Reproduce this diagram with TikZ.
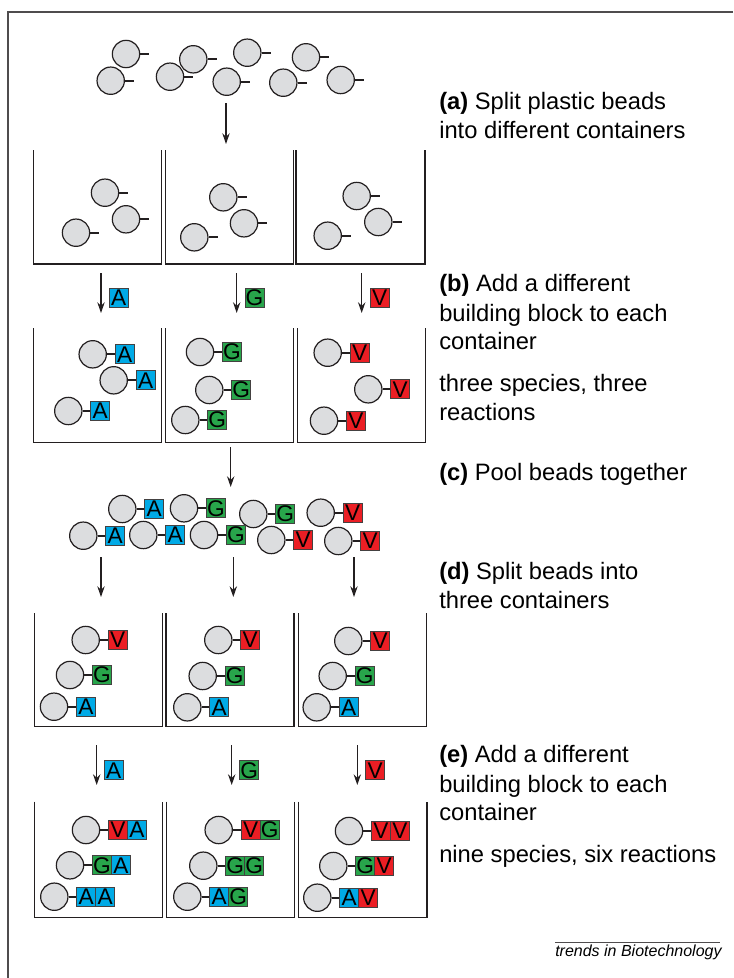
\documentclass[tikz,border=0pt]{standalone}
\usepackage{fontspec}
\setmainfont{Liberation Sans}
\usetikzlibrary{arrows.meta,calc}
\definecolor{beadgray}{RGB}{220,221,223}
\definecolor{blkA}{RGB}{0,170,230}
\definecolor{blkG}{RGB}{40,165,75}
\definecolor{blkV}{RGB}{235,30,36}
\definecolor{ink}{RGB}{35,31,32}
\tikzset{
 bead/.style={circle, draw=ink, fill=beadgray, line width=0.9pt, minimum size=20.5pt, inner sep=0pt},
 stick/.style={draw=ink, line width=1.4pt},
 blk/.style={draw=ink!85, line width=0.6pt, minimum size=14.25pt, inner sep=0pt, font=\fontsize{17pt}{17pt}\selectfont},
 cont/.style={draw=ink, line width=0.9pt},
 arr/.style={draw=ink, line width=0.9pt, -{Stealth[length=8pt,width=5.5pt]}},
 frame/.style={draw=ink!80, line width=1.2pt},
 lbl/.style={anchor=base west, inner sep=0pt, font=\fontsize{17.8pt}{21pt}\selectfont},
 foot/.style={anchor=base west, inner sep=0pt, font=\fontsize{12pt}{14pt}\selectfont\itshape},
}
\newcommand\PlainBead[3]{%
 \node[bead] (#1) at (#2,#3) {};
 \coordinate (#1-e) at ($(#1.east)+(9,0)$);
 \draw[stick] (#1.east) -- (#1-e);}
\newcommand\OneBead[5]{%
 \node[bead] (#1) at (#2,#3) {};
 \node[blk, fill=blk#4] (#1-b1) at ($(#1.center)+(32,0)$) {#5};
 \draw[stick] (#1) -- (#1-b1);}
\newcommand\TwoBead[7]{%
 \node[bead] (#1) at (#2,#3) {};
 \node[blk, fill=blk#4] (#1-b1) at ($(#1.center)+(32,0)$) {#5};
 \node[blk, fill=blk#6] (#1-b2) at ($(#1.center)+(51,0)$) {#7};
 \draw[stick] (#1) -- (#1-b1);}
\newcommand\Cont[5]{%
 \coordinate (#1-tl) at (#2,#3); \coordinate (#1-bl) at (#2,#5);
 \coordinate (#1-br) at (#4,#5); \coordinate (#1-tr) at (#4,#3);
 \draw[cont] (#1-tl) -- (#1-bl) -- (#1-br) -- (#1-tr);}
\newcommand\Arr[4]{%
 \coordinate (#1-s) at (#2,#3); \coordinate (#1-e) at (#2,#4);
 \draw[arr] (#1-s) -- (#1-e);}
\begin{document}
\begin{tikzpicture}[x=0.75pt,y=-0.75pt]
\useasboundingbox (0,0) rectangle (733,978);
% frame
\coordinate (fr-tr) at (733,12); \coordinate (fr-tl) at (8,12); \coordinate (fr-bl) at (8,978);
\draw[frame] (fr-tr) -- (fr-tl) -- (fr-bl);
% top beads
\PlainBead{t1}{126}{54}
\PlainBead{t2}{110.7}{80.7}
\PlainBead{t3}{193.3}{59.3}
\PlainBead{t4}{170}{76.7}
\PlainBead{t5}{247.3}{52.7}
\PlainBead{t6}{226.7}{81.7}
\PlainBead{t7}{306}{57.3}
\PlainBead{t8}{283.3}{82.7}
\PlainBead{t9}{340.7}{80}
\Arr{a0}{226}{103}{144}
% row 1 containers
\Cont{k1}{33.3}{150}{161.7}{264}
\Cont{k2}{165.3}{150}{293.3}{264}
\Cont{k3}{296}{150}{425}{264}
\PlainBead{r1a}{105}{192.7}
\PlainBead{r1b}{126}{219.3}
\PlainBead{r1c}{76}{232.7}
\PlainBead{r1d}{223.3}{197.3}
\PlainBead{r1e}{244}{223.3}
\PlainBead{r1f}{194.3}{237.3}
\PlainBead{r1g}{356.7}{196}
\PlainBead{r1h}{378.3}{222}
\PlainBead{r1i}{327.7}{235.7}
% add blocks (b)
\Arr{a1}{101}{273}{313}
\Arr{a2}{236.7}{273}{313}
\Arr{a3}{361.7}{273}{313}
\node[blk, fill=blkA] (ba1) at (118.8,297.8) {A};
\node[blk, fill=blkG] (ba2) at (254.5,297.8) {G};
\node[blk, fill=blkV] (ba3) at (379.7,297.8) {V};
% row 2 containers
\Cont{m1}{33.3}{328.3}{161.7}{442.3}
\Cont{m2}{165.3}{328.3}{293.3}{442.3}
\Cont{m3}{297.3}{328.3}{425.7}{442.3}
\OneBead{r2a}{92.7}{354.3}{A}{A}
\OneBead{r2b}{113.7}{380.3}{A}{A}
\OneBead{r2c}{68.3}{411}{A}{A}
\OneBead{r2d}{200}{352}{G}{G}
\OneBead{r2e}{209.3}{390}{G}{G}
\OneBead{r2f}{185.3}{420}{G}{G}
\OneBead{r2g}{327.7}{352.7}{V}{V}
\OneBead{r2h}{368.3}{389.3}{V}{V}
\OneBead{r2i}{324}{420.7}{V}{V}
% pool
\Arr{a4}{230.7}{447}{487}
\OneBead{p1}{122.3}{509}{A}{A}
\OneBead{p2}{184}{508.3}{G}{G}
\OneBead{p3}{253.3}{514}{G}{G}
\OneBead{p4}{320.7}{512.7}{V}{V}
\OneBead{p5}{83.3}{535.7}{A}{A}
\OneBead{p6}{143.3}{535}{A}{A}
\OneBead{p7}{204}{535}{G}{G}
\OneBead{p8}{271.3}{540}{V}{V}
\OneBead{p9}{338.3}{541}{V}{V}
\Arr{a5}{101}{557}{597}
\Arr{a6}{233.3}{557}{597}
\Arr{a7}{354}{557}{597}
% row 3 containers
\Cont{n1}{34.3}{613.3}{162.3}{726.7}
\Cont{n2}{166}{613.3}{294}{726.7}
\Cont{n3}{298.3}{613.3}{426.7}{726.7}
\OneBead{r3a}{85.7}{640}{V}{V}
\OneBead{r3b}{70}{675}{G}{G}
\OneBead{r3c}{54}{706.7}{A}{A}
\OneBead{r3d}{218.3}{640}{V}{V}
\OneBead{r3e}{202.7}{676}{G}{G}
\OneBead{r3f}{187.3}{707.3}{A}{A}
\OneBead{r3g}{348.3}{641}{V}{V}
\OneBead{r3h}{332.7}{676}{G}{G}
\OneBead{r3i}{316.7}{707.3}{A}{A}
% add blocks (e)
\Arr{a8}{96.7}{745}{785}
\Arr{a9}{231.7}{745}{785}
\Arr{a10}{357.3}{745}{785}
\node[blk, fill=blkA] (bb1) at (113.7,770.3) {A};
\node[blk, fill=blkG] (bb2) at (249.2,770.3) {G};
\node[blk, fill=blkV] (bb3) at (375.3,770.3) {V};
% row 4 containers
\Cont{q1}{34.7}{801.7}{162.7}{917.7}
\Cont{q2}{166.7}{801.7}{294.3}{917.7}
\Cont{q3}{298.7}{801.7}{427}{917.7}
\TwoBead{r4a}{86}{830}{V}{V}{A}{A}
\TwoBead{r4b}{70}{865.3}{G}{G}{A}{A}
\TwoBead{r4c}{54.3}{896.7}{A}{A}{A}{A}
\TwoBead{r4d}{218.7}{830}{V}{V}{G}{G}
\TwoBead{r4e}{203.3}{865.7}{G}{G}{G}{G}
\TwoBead{r4f}{187.3}{896.7}{A}{A}{G}{G}
\TwoBead{r4g}{349}{831}{V}{V}{V}{V}
\TwoBead{r4h}{333.3}{866}{G}{G}{V}{V}
\TwoBead{r4i}{317.3}{897.7}{A}{A}{V}{V}
% labels
\node[lbl] (la1) at (439,109.3) {\textbf{(a)} Split plastic beads};
\node[lbl] (la2) at (439,138.3) {into different containers};
\node[lbl] (lb1) at (439,291.7) {\textbf{(b)} Add a different};
\node[lbl] (lb2) at (439,321) {building block to each};
\node[lbl] (lb3) at (439,349.3) {container};
\node[lbl] (lb4) at (439,391.7) {three species, three};
\node[lbl] (lb5) at (439,420.7) {reactions};
\node[lbl] (lc1) at (439,480.7) {\textbf{(c)} Pool beads together};
\node[lbl] (ld1) at (439,579.3) {\textbf{(d)} Split beads into};
\node[lbl] (ld2) at (439,608.3) {three containers};
\node[lbl] (le1) at (439,762.7) {\textbf{(e)} Add a different};
\node[lbl] (le2) at (439,792) {building block to each};
\node[lbl] (le3) at (439,820.3) {container};
\node[lbl] (le4) at (439,862.7) {nine species, six reactions};
% footer
\coordinate (fl-a) at (555,942.3); \coordinate (fl-b) at (720,942.3);
\draw[draw=ink!80, line width=0.6pt] (fl-a) -- (fl-b);
\node[foot] (ft) at (555,956.7) {trends in Biotechnology};
\end{tikzpicture}
\end{document}
